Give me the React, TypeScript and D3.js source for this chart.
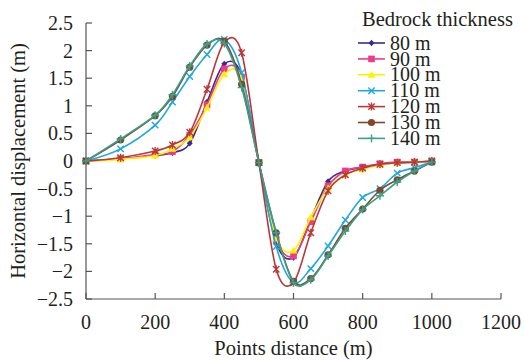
import React from "react";
import * as d3 from "d3";

const distances = [0, 100, 200, 250, 300, 350, 400, 450, 500, 550, 600, 650, 700, 750, 800, 850, 900, 950, 1000];
const seriesNames = ["80 m", "90 m", "100 m", "110 m", "120 m", "130 m", "140 m"];
const s80 = [0, 0.04, 0.1, 0.15, 0.32, 1.07, 1.76, 1.55, -0.03, -1.48, -1.75, -1.05, -0.37, -0.18, -0.11, -0.06, -0.03, -0.02, 0];
const s90 = [0, 0.04, 0.12, 0.17, 0.47, 1.02, 1.67, 1.52, -0.03, -1.42, -1.72, -1.1, -0.45, -0.18, -0.11, -0.05, -0.02, -0.02, 0];
const s100 = [0, 0.03, 0.1, 0.22, 0.43, 0.97, 1.57, 1.5, -0.03, -1.4, -1.62, -1.02, -0.5, -0.25, -0.15, -0.07, -0.03, -0.02, 0];
const s110 = [0, 0.22, 0.65, 1.07, 1.53, 1.93, 2.2, 1.6, -0.03, -1.55, -2.2, -1.95, -1.54, -1.07, -0.66, -0.5, -0.22, -0.12, -0.02];
const s120 = [0, 0.06, 0.18, 0.29, 0.52, 1.3, 2.15, 1.96, -0.03, -1.96, -2.2, -1.3, -0.54, -0.25, -0.13, -0.06, -0.03, -0.02, 0];
const s130 = [0, 0.38, 0.82, 1.17, 1.7, 2.1, 2.17, 1.39, -0.03, -1.3, -2.18, -2.13, -1.7, -1.22, -0.87, -0.53, -0.34, -0.18, -0.02];
const s140 = [0, 0.4, 0.83, 1.2, 1.72, 2.12, 2.13, 1.33, -0.03, -1.3, -2.2, -2.15, -1.72, -1.27, -0.88, -0.63, -0.38, -0.18, -0.02];
const allSeries = [s80, s90, s100, s110, s120, s130, s140];
const colors = ["#3d2a8a", "#ec3a8c", "#fff200", "#1ea7e1", "#b8383a", "#7b4a2b", "#3aa08c"];
const markers = ["diamond", "square", "triangle", "x", "star", "circle", "plus"];
const xTicks = [0, 200, 400, 600, 800, 1000, 1200];
const yTicks = [-2.5, -2, -1.5, -1, -0.5, 0, 0.5, 1, 1.5, 2, 2.5];

const FONT = "'Liberation Serif', 'Times New Roman', serif";
const TXT = "#231f20";

function Marker({ type, x, y, color }: { type: string; x: number; y: number; color: string }) {
  const s = 3.2;
  switch (type) {
    case "diamond":
      return <path d={`M${x},${y - 3.2}L${x + 3},${y}L${x},${y + 3.2}L${x - 3},${y}Z`} fill={color} />;
    case "square":
      return <rect x={x - 3.3} y={y - 3.3} width={6.6} height={6.6} fill={color} />;
    case "triangle":
      return <path d={`M${x},${y - 4}L${x + 3.8},${y + 3}L${x - 3.8},${y + 3}Z`} fill={color} />;
    case "x":
      return <path d={`M${x - s},${y - s}L${x + s},${y + s}M${x - s},${y + s}L${x + s},${y - s}`} stroke={color} strokeWidth={1.4} />;
    case "star":
      return (
        <path
          d={`M${x - s},${y - s}L${x + s},${y + s}M${x - s},${y + s}L${x + s},${y - s}M${x},${y - 4}L${x},${y + 4}`}
          stroke={color}
          strokeWidth={1.4}
        />
      );
    case "circle":
      return <circle cx={x} cy={y} r={3.6} fill={color} />;
    case "plus":
      return <path d={`M${x - 4},${y}L${x + 4},${y}M${x},${y - 4}L${x},${y + 4}`} stroke={color} strokeWidth={1.4} />;
  }
  return null;
}

export default function App() {
  const x = d3.scaleLinear().domain([0, 1200]).range([86, 501]);
  const y = d3.scaleLinear().domain([-2.5, 2.5]).range([299, 23]);
  const line = d3
    .line<number>()
    .x((_, i) => x(distances[i]))
    .y((d) => y(d))
    .curve(d3.curveCardinal.tension(0));

  const legendX = 358;
  const legendY0 = 43;
  const legendStep = 15.9;

  return (
    <svg width={524} height={361} style={{ position: "absolute", left: 0, top: 0, background: "#fff" }}>
      {/* axes */}
      <line x1={x(0)} x2={x(0)} y1={y(2.5)} y2={y(-2.5)} stroke="#555" strokeWidth={1.2} />
      <line x1={x(0)} x2={x(1200)} y1={y(-2.5)} y2={y(-2.5)} stroke="#555" strokeWidth={1.2} />
      {yTicks.map((t) => (
        <g key={"y" + t}>
          <line x1={x(0)} x2={x(0) + 6} y1={y(t)} y2={y(t)} stroke="#555" strokeWidth={1.2} />
          <text x={x(0) - 13} y={y(t)} dy="0.35em" textAnchor="end" fontFamily={FONT} fontSize={20} fill={TXT}>
            {t < 0 ? "\u2212" + Math.abs(t) : String(t)}
          </text>
        </g>
      ))}
      {xTicks.map((t) => (
        <g key={"x" + t}>
          <line x1={x(t)} x2={x(t)} y1={y(-2.5)} y2={y(-2.5) - 6} stroke="#555" strokeWidth={1.2} />
          <text x={x(t)} y={322} dy="0.35em" textAnchor="middle" fontFamily={FONT} fontSize={20} fill={TXT}>
            {t}
          </text>
        </g>
      ))}
      <text x={x(600)} y={348} dy="0.35em" textAnchor="middle" fontFamily={FONT} fontSize={20.5} fill={TXT}>
        Points distance (m)
      </text>
      <text
        transform={`translate(18,${y(0)}) rotate(-90)`}
        dy="0.35em"
        textAnchor="middle"
        fontFamily={FONT}
        fontSize={20.5}
        fill={TXT}
      >
        Horizontal displacement (m)
      </text>

      {/* series */}
      {allSeries.map((s, k) => (
        <g key={"s" + k}>
          <path d={line(s) || ""} fill="none" stroke={colors[k]} strokeWidth={1.6} />
          {s.map((v, i) => (
            <Marker key={i} type={markers[k]} x={x(distances[i])} y={y(v)} color={colors[k]} />
          ))}
        </g>
      ))}

      {/* legend */}
      <text x={362} y={19} dy="0.35em" fontFamily={FONT} fontSize={20.5} fill={TXT}>
        Bedrock thickness
      </text>
      {seriesNames.map((n, k) => {
        const ly = legendY0 + k * legendStep;
        return (
          <g key={"l" + k}>
            <line x1={legendX} x2={legendX + 27} y1={ly} y2={ly} stroke={colors[k]} strokeWidth={1.6} />
            <Marker type={markers[k]} x={legendX + 13.5} y={ly} color={colors[k]} />
            <text x={legendX + 32} y={ly} dy="0.33em" fontFamily={FONT} fontSize={20} fill={TXT}>
              {n}
            </text>
          </g>
        );
      })}
    </svg>
  );
}
